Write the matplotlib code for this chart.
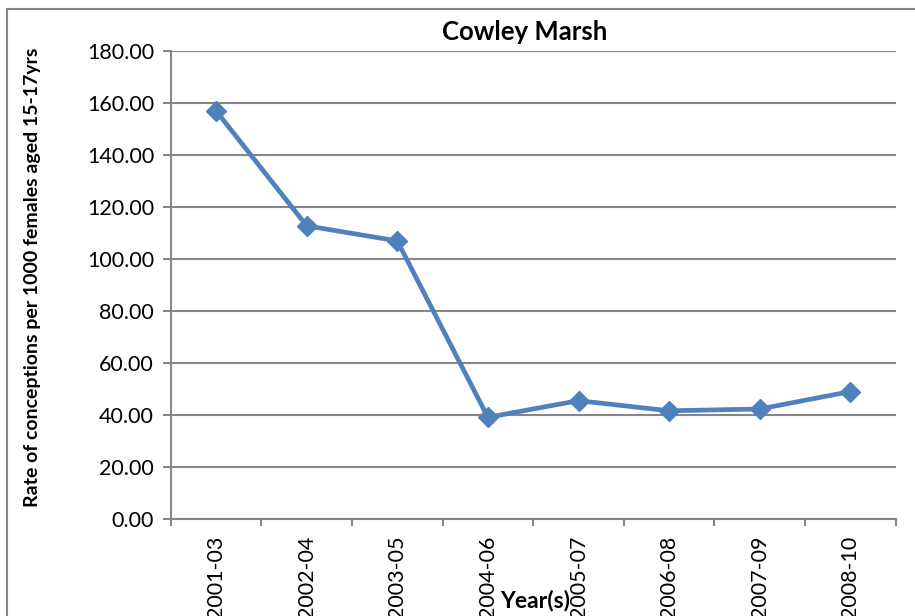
import matplotlib.pyplot as plt
from matplotlib.patches import Rectangle

# data
periods = ['2001-03', '2002-04', '2003-05', '2004-06',
           '2005-07', '2006-08', '2007-09', '2008-10']
rates = [157.0, 112.8, 107.0, 39.2, 45.6, 41.7, 42.4, 49.1]
y_ticks = [0, 20, 40, 60, 80, 100, 120, 140, 160, 180]

grey = '#868686'
blue = '#4F81BD'

plt.rcParams['font.family'] = ['Lato', 'DejaVu Sans']

fig = plt.figure(figsize=(9.15, 6.16), dpi=100)
ax = fig.add_axes([0.1866, 0.1570, 0.7923, 0.7602])

x = list(range(len(periods)))
ax.plot(x, rates, color=blue, lw=3.4, marker='D', markersize=10,
        markeredgecolor=blue, zorder=3)

ax.set_ylim(0, 180)
ax.set_yticks(y_ticks)
ax.set_yticklabels([f'{v:.2f}' for v in y_ticks], fontsize=15.5)
ax.yaxis.grid(True, color=grey, lw=1.5)
ax.set_axisbelow(True)

ax.set_xlim(-0.5, len(periods) - 0.5)
ax.set_xticks([i - 0.5 for i in range(len(periods) + 1)])
ax.set_xticklabels([])
ax.set_xticks(x, minor=True)
ax.set_xticklabels(periods, minor=True, rotation=90, fontsize=15.5, va='top')
ax.tick_params(axis='x', which='minor', length=0, pad=12)
ax.tick_params(axis='x', which='major', length=5, color=grey, width=1.5)
ax.tick_params(axis='y', length=6, color=grey, width=1.5, pad=6)

for s in ['top', 'right']:
    ax.spines[s].set_visible(False)
for s in ['left', 'bottom']:
    ax.spines[s].set_color(grey)
    ax.spines[s].set_linewidth(1.5)

fig.text(0.573, 0.948, 'Cowley Marsh', ha='center', va='center',
         fontsize=18.5, fontweight='bold')
fig.text(0.036, 0.55, 'Rate of conceptions per 1000 females aged 15-17yrs',
         rotation=90, ha='center', va='center', fontsize=14, fontweight='bold')
fig.text(0.585, 0.025, 'Year(s)', ha='center', va='center',
         fontsize=16.5, fontweight='bold')

# chart area border (cut off at right and bottom)
fig.patches.append(Rectangle((7 / 915, -0.1), 1.2, 1 - 9 / 616 + 0.1,
                             transform=fig.transFigure, fill=False,
                             edgecolor=grey, lw=1.5))

fig.savefig('out.png', dpi=100)
